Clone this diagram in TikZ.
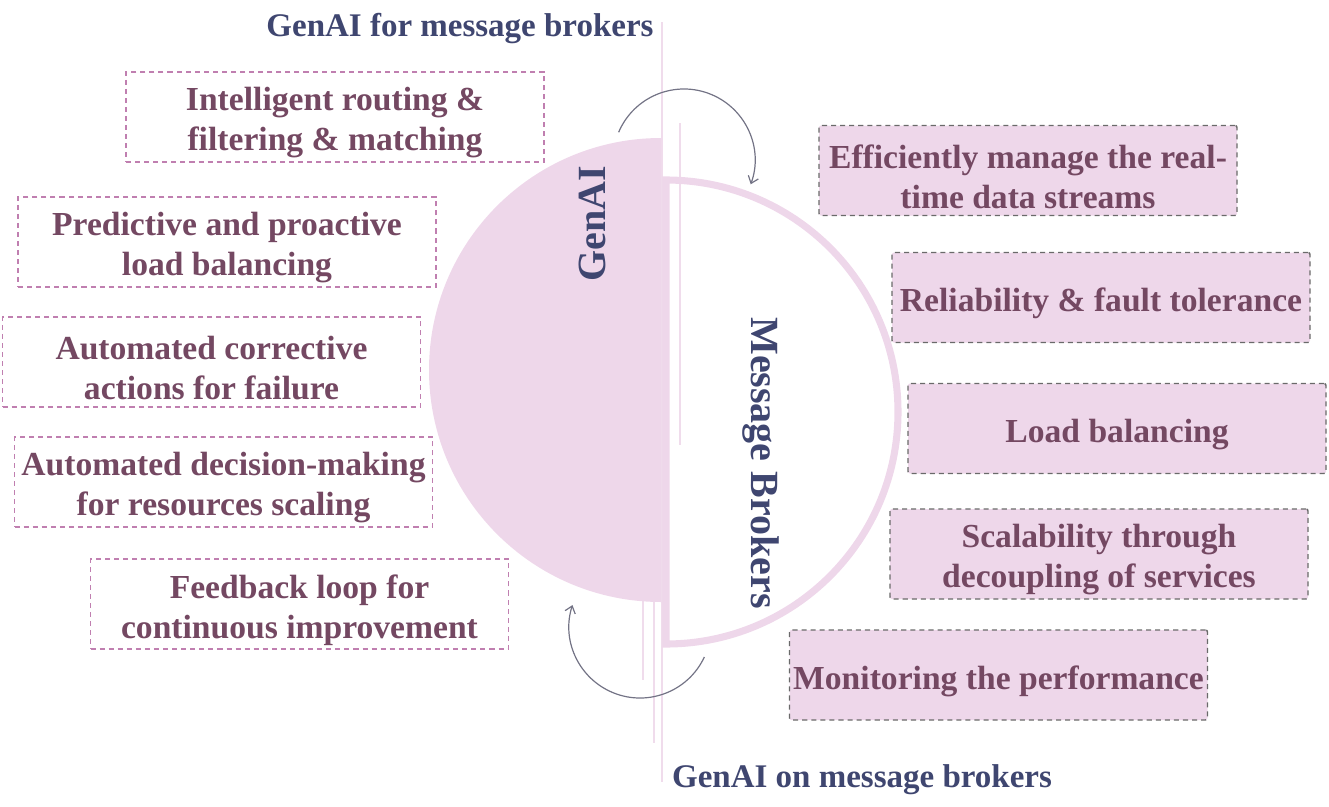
\documentclass[tikz,border=0pt]{standalone}
\usepackage{fontspec}
\setmainfont{Liberation Serif}
\usetikzlibrary{arrows.meta,calc}
\definecolor{navy}{HTML}{3F4670}
\definecolor{plum}{HTML}{744862}
\definecolor{pinkfill}{HTML}{EED7EA}
\definecolor{pinkline}{HTML}{F0DCEC}
\definecolor{pinkdash}{HTML}{C07FB0}
\definecolor{graydash}{HTML}{6A6A6A}
\definecolor{arrowgray}{HTML}{737385}
\tikzset{
  boxframe/.style={inner sep=0pt, minimum width=313.5pt, minimum height=67.5pt, line width=1.1pt, dash pattern=on 3.8pt off 3pt},
  leftbox/.style={boxframe, draw=pinkdash, fill=white},
  rightbox/.style={boxframe, draw=graydash, fill=pinkfill, rounded corners=1.5pt},
  boxtext/.style={font=\fontsize{25.2}{30}\selectfont\bfseries, text=plum, align=center, inner sep=0pt, yshift=-4.5pt},
  title/.style={font=\fontsize{24.75}{30}\selectfont\bfseries, text=navy, inner sep=0pt},
  biglabel/.style={font=\fontsize{30}{36}\selectfont\bfseries, text=navy, inner sep=0pt},
  thinline/.style={draw=pinkline, line width=1.5pt},
  cyclearrow/.style={draw=arrowgray, line width=0.9pt, -{Straight Barb[length=5pt,width=8pt]}}
}
\begin{document}
\begin{tikzpicture}[x=0.75pt,y=-0.75pt]
\useasboundingbox (0,0) rectangle (1329,807);
% thin vertical lines
\draw[thinline] (662,22) -- (662,782);
\draw[thinline] (654,600) -- (654,743);
\draw[thinline] (643,600) -- (643,680);
% left filled half disc
\fill[pinkfill] (661,138) arc[start angle=270, end angle=90, radius=232] -- cycle;
\draw[thinline] (680,123) -- (680,445);
% right half ring
\draw[pinkfill, line width=5.3pt] (666,180) arc[start angle=270, end angle=450, radius=232] -- cycle;
% titles
\node[title] (ttop) at (460,29) {GenAI for message brokers};
\node[title] (tbot) at (862,780) {GenAI on message brokers};
% rotated labels
\node[biglabel, rotate=90] (genai) at (592,224) {GenAI};
\node[biglabel, rotate=-90] (mb) at (761,463) {Message Brokers};
% cycle arrows
\coordinate (ctop) at (684,160);
\coordinate (cbot) at (640,627);
\draw[cyclearrow] ($(ctop)+(203:71)$) arc[start angle=203, end angle=380, radius=71];
\draw[cyclearrow] ($(cbot)+(25:71)$) arc[start angle=25, end angle=198, radius=71];
% left boxes
\node[leftbox] (l1) at (335,117) {};
\node[leftbox] (l2) at (227,242) {};
\node[leftbox] (l3) at (211.5,362) {};
\node[leftbox] (l4) at (223.5,482) {};
\node[leftbox] (l5) at (299.5,604) {};
\node[boxtext] (l1t) at (l1.center) {Intelligent routing \&\\filtering \& matching};
\node[boxtext] (l2t) at (l2.center) {Predictive and proactive\\load balancing};
\node[boxtext] (l3t) at (l3.center) {Automated corrective\\actions for failure};
\node[boxtext] (l4t) at (l4.center) {Automated decision-making\\for resources scaling};
\node[boxtext] (l5t) at (l5.center) {Feedback loop for\\continuous improvement};
% right boxes
\node[rightbox] (r1) at (1028,170.5) {};
\node[rightbox] (r2) at (1101,297.5) {};
\node[rightbox] (r3) at (1117,428.5) {};
\node[rightbox] (r4) at (1099,554) {};
\node[rightbox] (r5) at (998.5,675) {};
\node[boxtext] (r1t) at (r1.center) {Efficiently manage the real-\\time data streams};
\node[boxtext] (r2t) at (r2.center) {Reliability \& fault tolerance};
\node[boxtext] (r3t) at (r3.center) {Load balancing};
\node[boxtext] (r4t) at (r4.center) {Scalability through\\decoupling of services};
\node[boxtext] (r5t) at (r5.center) {Monitoring the performance};
\end{tikzpicture}
\end{document}
